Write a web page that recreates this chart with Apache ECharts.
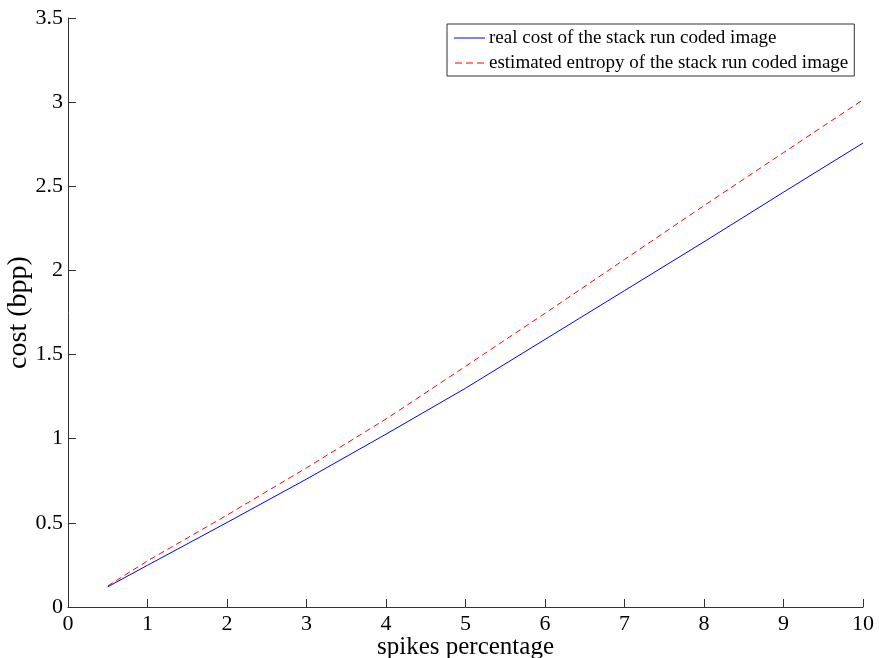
<!DOCTYPE html>
<html>
<head>
<meta charset="utf-8">
<script src="https://cdn.jsdelivr.net/npm/echarts@6/dist/echarts.min.js"></script>
<style>
html,body{margin:0;padding:0;background:#fff;}
#c{width:879px;height:658px;}
</style>
</head>
<body>
<div id="c"></div>
<script>
const xValues = [0.5, 1, 2, 3, 4, 5, 6, 7, 8, 9, 10];
const realCost = [0.12, 0.248, 0.502, 0.760, 1.027, 1.300, 1.590, 1.880, 2.170, 2.465, 2.757];
const estEntropy = [0.125, 0.274, 0.546, 0.827, 1.117, 1.430, 1.745, 2.065, 2.385, 2.700, 3.014];
const seriesNames = ['real cost of the stack run coded image', 'estimated entropy of the stack run coded image'];
const xTitle = 'spikes percentage';
const yTitle = 'cost (bpp)';

const font = '"Liberation Serif", "Times New Roman", serif';
const axisColor = '#333';

const chart = echarts.init(document.getElementById('c'), null, {renderer: 'canvas'});
chart.setOption({
  animation: false,
  backgroundColor: '#fff',
  grid: {left: 68, right: 16, top: 18, bottom: 51, containLabel: false, outerBoundsMode: 'none'},
  legend: {
    orient: 'vertical',
    left: 447, top: 24,
    itemWidth: 31, itemHeight: 1, itemGap: 5,
    padding: [4, 6, 3, 7],
    borderColor: '#333', borderWidth: 1, borderRadius: 0,
    backgroundColor: '#fff',
    textStyle: {fontFamily: font, fontSize: 19, lineHeight: 20, color: '#000', padding: [0, 0, 0, -1]},
    data: [
      {name: seriesNames[0], icon: 'path://M0,0H31V1H0Z', itemStyle: {color: '#0000ff'}},
      {name: seriesNames[1], icon: 'path://M1,0H8V1H1Z M12,0H19V1H12Z M23,0H30V1H23Z', itemStyle: {color: '#ff0000'}}
    ]
  },
  xAxis: {
    type: 'value', min: 0, max: 10, interval: 1,
    name: xTitle, nameLocation: 'middle', nameGap: 28, nameMoveOverlap: false,
    nameTextStyle: {fontFamily: font, fontSize: 25, color: '#000'},
    axisLine: {show: true, lineStyle: {color: axisColor, width: 1}},
    axisTick: {show: true, inside: true, length: 8, lineStyle: {color: axisColor}},
    axisLabel: {fontFamily: font, fontSize: 22, color: '#000', margin: 6},
    splitLine: {show: false}
  },
  yAxis: {
    type: 'value', min: 0, max: 3.5, interval: 0.5,
    name: yTitle, nameLocation: 'middle', nameGap: 35, nameMoveOverlap: false,
    nameTextStyle: {fontFamily: font, fontSize: 28, color: '#000'},
    axisLine: {show: true, lineStyle: {color: axisColor, width: 1}},
    axisTick: {show: true, inside: true, length: 8, lineStyle: {color: axisColor}},
    axisLabel: {fontFamily: font, fontSize: 22, color: '#000', margin: 5},
    splitLine: {show: false}
  },
  series: [
    {
      name: seriesNames[0], type: 'line', symbol: 'none', smooth: false,
      data: xValues.map((x, i) => [x, realCost[i]]),
      lineStyle: {color: '#0000ff', width: 1, type: 'solid'},
      itemStyle: {color: '#0000ff'}
    },
    {
      name: seriesNames[1], type: 'line', symbol: 'none', smooth: false,
      data: xValues.map((x, i) => [x, estEntropy[i]]),
      lineStyle: {color: '#ff0000', width: 1, type: [6, 4]},
      itemStyle: {color: '#ff0000'}
    }
  ]
});
</script>
</body>
</html>
